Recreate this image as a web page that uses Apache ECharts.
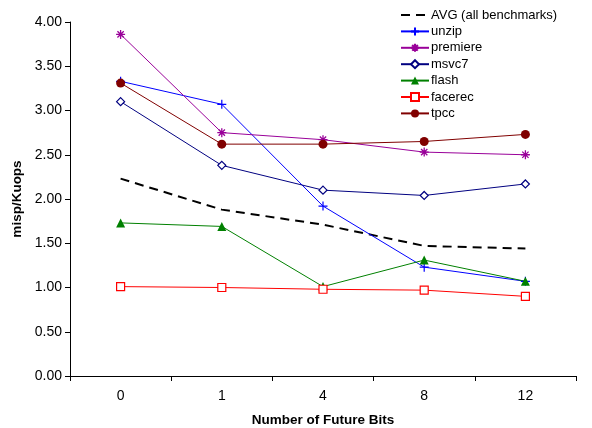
<!DOCTYPE html>
<html><head><meta charset="utf-8">
<script src="https://cdn.jsdelivr.net/npm/echarts@6/dist/echarts.min.js"></script>
<style>html,body{margin:0;padding:0;background:#fff}#c{width:592px;height:428px}</style>
</head><body><div id="c"></div>
<script>
var categories = ['0', '1', '4', '8', '12'];
var avg      = [2.23, 1.88, 1.71, 1.47, 1.44];
var unzip    = [3.33, 3.07, 1.92, 1.23, 1.07];
var premiere = [3.86, 2.75, 2.67, 2.53, 2.50];
var msvc7    = [3.10, 2.38, 2.10, 2.04, 2.17];
var flash    = [1.73, 1.69, 1.01, 1.31, 1.07];
var facerec  = [1.01, 1.00, 0.98, 0.97, 0.90];
var tpcc     = [3.31, 2.62, 2.62, 2.65, 2.73];
var yTicks = [0, 0.5, 1, 1.5, 2, 2.5, 3, 3.5, 4];

var FONT = '"Liberation Sans", Arial, Helvetica, sans-serif';
var plusPath = 'path://M5,0L5,10M0,5L10,5';
var starPath = 'path://M5,0L5,10M0,5L10,5M1.5,1.5L8.5,8.5M8.5,1.5L1.5,8.5';

function mk(name, data, color, opts) {
  var s = {
    name: name, type: 'line', data: data, color: color,
    lineStyle: { color: color, width: 1 },
    itemStyle: { color: color },
    symbolSize: 8, animation: false
  };
  for (var k in opts) s[k] = opts[k];
  return s;
}

var chart = echarts.init(document.getElementById('c'));
chart.setOption({
  animation: false,
  textStyle: { fontFamily: FONT },
  grid: { left: 70, right: 16, top: 22, bottom: 52, containLabel: false, outerBoundsMode: 'none' },
  legend: {
    orient: 'vertical', left: 395, top: 3.5, itemGap: 3.4,
    itemWidth: 28, itemHeight: 10,
    textStyle: { fontFamily: FONT, fontSize: 13, color: '#000', padding: [0, 0, 0, -3] },
    data: [
      { name: 'AVG (all benchmarks)', itemStyle: { color: 'rgba(0,0,0,0)', borderColor: 'rgba(0,0,0,0)', borderWidth: 0 } },
      'unzip', 'premiere', 'msvc7', 'flash', 'facerec', 'tpcc'
    ]
  },
  xAxis: {
    type: 'category', data: categories, boundaryGap: true,
    name: 'Number of Future Bits', nameLocation: 'middle', nameGap: 37,
    nameTextStyle: { fontFamily: FONT, fontSize: 13.5, fontWeight: 'bold', color: '#000' },
    axisLine: { lineStyle: { color: '#000', width: 1 } },
    axisTick: { show: true, interval: 0, length: 5, lineStyle: { color: '#000' } },
    axisLabel: { fontFamily: FONT, fontSize: 14, color: '#000', margin: 13 },
    splitLine: { show: false }
  },
  yAxis: {
    type: 'value', min: yTicks[0], max: yTicks[yTicks.length - 1], interval: 0.5,
    name: 'misp/Kuops', nameLocation: 'middle', nameGap: 46,
    nameTextStyle: { fontFamily: FONT, fontSize: 13.5, fontWeight: 'bold', color: '#000' },
    axisLine: { show: true, lineStyle: { color: '#000', width: 1 } },
    axisTick: { show: true, length: 5, lineStyle: { color: '#000' } },
    axisLabel: { fontFamily: FONT, fontSize: 14, color: '#000', margin: 8,
      formatter: function (v) { return v.toFixed(2); } },
    splitLine: { show: false }
  },
  series: [
    mk('AVG (all benchmarks)', avg, '#000000', {
      showSymbol: false, symbol: 'none',
      lineStyle: { color: '#000', width: 2, type: [9, 6] }
    }),
    mk('unzip', unzip, '#0000FF', {
      symbol: plusPath, symbolSize: 9,
      itemStyle: { color: 'transparent', borderColor: '#0000FF', borderWidth: 1.2 }
    }),
    mk('premiere', premiere, '#990099', {
      symbol: starPath, symbolSize: 9,
      itemStyle: { color: 'transparent', borderColor: '#990099', borderWidth: 1.3 }
    }),
    mk('msvc7', msvc7, '#000080', {
      symbol: 'diamond', symbolSize: 8, showAllSymbol: true,
      itemStyle: { color: '#fff', borderColor: '#000080', borderWidth: 1.2 }
    }),
    mk('flash', flash, '#008000', { symbol: 'triangle', symbolSize: 9 }),
    mk('facerec', facerec, '#FF0000', {
      symbol: 'rect', symbolSize: 8,
      itemStyle: { color: '#fff', borderColor: '#FF0000', borderWidth: 1.2 }
    }),
    mk('tpcc', tpcc, '#800000', { symbol: 'circle', symbolSize: 9 })
  ]
});
</script></body></html>
